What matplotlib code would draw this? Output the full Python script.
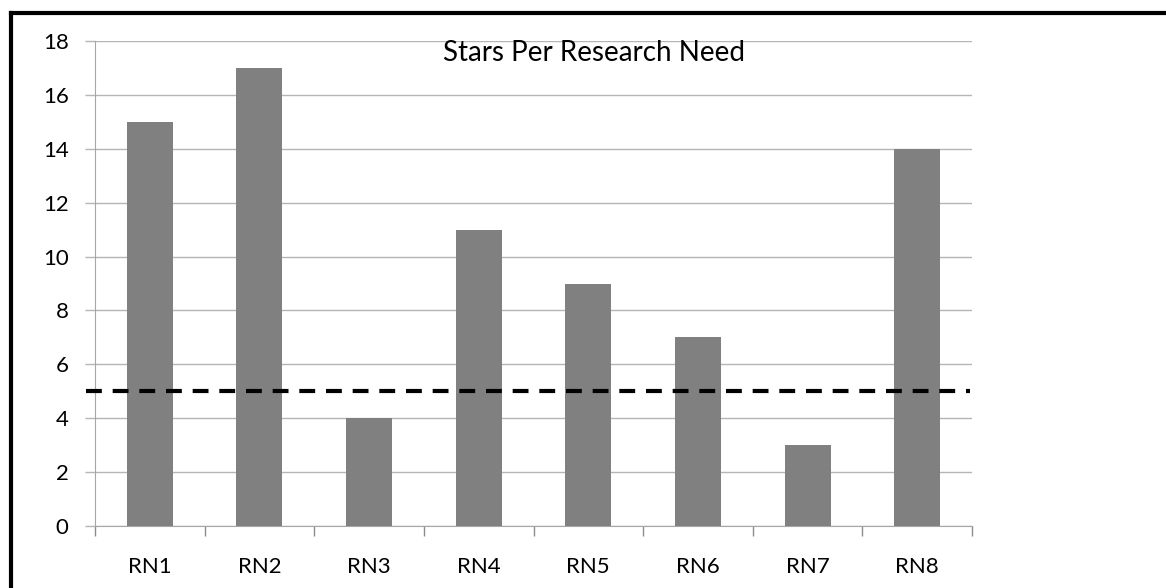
import matplotlib.pyplot as plt
from matplotlib.lines import Line2D
import numpy as np

# ==============================
# Data
# ==============================

needs = ["RN1", "RN2", "RN3", "RN4", "RN5", "RN6", "RN7", "RN8"]
stars = [15, 17, 4, 11, 9, 7, 3, 14]
threshold = 5

# ==============================
# Chart
# ==============================

plt.rcParams["font.family"] = ["Lato", "DejaVu Sans"]

fig = plt.figure(figsize=(11.66, 5.88), dpi=100)
W, H = 1166, 588
ax = fig.add_axes([95 / W, 1 - 526 / H, (972 - 95) / W, (526 - 41) / H])

x = np.arange(len(needs))
ax.bar(x, stars, width=0.42, color="#808080", zorder=3)
ax.hlines(threshold, -0.58, len(needs) - 0.52, color="black", lw=3,
          linestyles=(0, (3.8, 2.6)), zorder=4, clip_on=False)

ax.set_xlim(-0.5, len(needs) - 0.5)
ax.set_ylim(0, 18)
ax.set_yticks(range(0, 19, 2))
ax.grid(axis="y", color="#b5b5b5", lw=1, zorder=0)

ax.set_xticks(x)
ax.set_xticklabels(needs)
ax.set_xticks(np.arange(-0.5, len(needs), 1), minor=True)
ax.tick_params(axis="x", which="major", length=0, pad=22, labelsize=16)
ax.tick_params(axis="x", which="minor", length=7, color="#8c8c8c", width=1)
ax.tick_params(axis="y", length=7, color="#b5b5b5", width=1, pad=12, labelsize=16)

for side in ("top", "right"):
    ax.spines[side].set_visible(False)
for side in ("left", "bottom"):
    ax.spines[side].set_color("#a6a6a6")

fig.text(594 / W, 1 - 53 / H, "Stars Per Research Need", ha="center", va="center", fontsize=20)

# frame lines on the left and top
fig.add_artist(Line2D([11 / W, 11 / W], [0, 1 - 13 / H], transform=fig.transFigure, color="black", lw=3))
fig.add_artist(Line2D([11 / W, 1], [1 - 13 / H, 1 - 13 / H], transform=fig.transFigure, color="black", lw=3))

fig.savefig("out.png", dpi=100)
